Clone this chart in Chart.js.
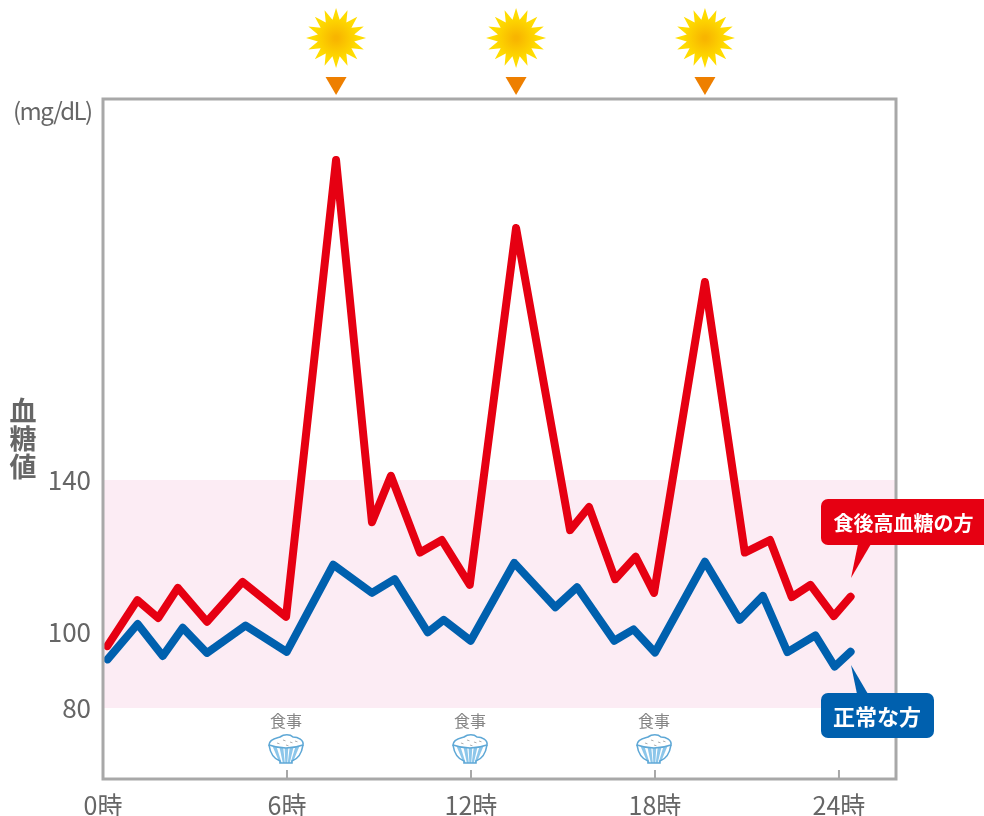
<!DOCTYPE html>
<html lang="ja">
<head>
<meta charset="utf-8">
<script src="https://cdn.jsdelivr.net/npm/chart.js@4"></script>
<style>
  html, body { margin: 0; padding: 0; background: #fff; }
  canvas { display: block; }
</style>
</head>
<body>
<canvas id="chart" width="984" height="816"></canvas>
<script>
// Values
const xTicks = [0, 6, 12, 18, 24];
const yTicks = [80, 100, 140];
const bandHours = [0, 25.86];
const bandValues = [140, 140];
const bandBottom = 80;

const redHours = [0.14, 1.12, 1.80, 2.44, 3.39, 4.55, 5.97, 7.60, 8.77, 9.39, 10.34, 11.05, 11.96,
  13.47, 15.23, 15.85, 16.70, 17.37, 17.97, 19.63, 20.93, 21.75, 22.46, 23.07, 23.83, 24.38];
const redValues = [96.3, 108.4, 103.7, 111.6, 102.7, 113.2, 104.0, 224.2, 128.9, 141.1, 120.9, 124.2, 112.4,
  206.3, 126.8, 132.9, 113.9, 119.8, 110.3, 192.1, 120.9, 124.2, 109.2, 112.4, 104.2, 109.3];

const blueHours = [0.15, 1.13, 1.95, 2.60, 3.39, 4.65, 5.99, 7.51, 8.77, 9.51, 10.59, 11.11, 11.99,
  13.41, 14.75, 15.46, 16.67, 17.30, 18.00, 19.63, 20.76, 21.52, 22.32, 23.23, 23.86, 24.38];
const blueValues = [92.8, 102.1, 93.7, 101.1, 94.5, 101.7, 94.8, 117.7, 110.3, 113.9, 99.9, 103.2, 97.7,
  118.2, 106.5, 111.8, 97.7, 100.7, 94.6, 118.5, 103.2, 109.5, 94.7, 99.1, 90.9, 94.8];

const sunHours = [7.60, 13.47, 19.63];
const mealHours = [6, 12, 18];

const toPoints = (hours, values) => hours.map((h, i) => ({ x: h, y: values[i] }));

const jpFont = '"Noto Sans CJK JP", "Noto Sans", sans-serif';
const RED = '#e60012';
const BLUE = '#0060ae';
const GREY = '#a8a8a8';
const TEXT = '#666666';

function drawSun(ctx, cx, cy) {
  const spikes = 16, outer = 30, inner = 18.5;
  const g = ctx.createRadialGradient(cx, cy, 2, cx, cy, 22);
  g.addColorStop(0, '#f8b500');
  g.addColorStop(1, '#ffdc00');
  ctx.fillStyle = g;
  ctx.beginPath();
  for (let i = 0; i < spikes * 2; i++) {
    const r = i % 2 === 0 ? outer : inner;
    const a = -Math.PI / 2 + i * Math.PI / spikes;
    ctx.lineTo(cx + r * Math.cos(a), cy + r * Math.sin(a));
  }
  ctx.closePath();
  ctx.fill();
  // orange marker under the sun
  ctx.fillStyle = '#ee7f00';
  ctx.beginPath();
  ctx.moveTo(cx - 10.5, 77);
  ctx.lineTo(cx + 10.5, 77);
  ctx.lineTo(cx, 95);
  ctx.closePath();
  ctx.fill();
}

function drawBowl(ctx, cx) {
  const rim = 745;
  // bowl body with stripes
  ctx.save();
  ctx.beginPath();
  ctx.moveTo(cx - 17, rim);
  ctx.quadraticCurveTo(cx - 15, rim + 13, cx - 6, rim + 16);
  ctx.lineTo(cx - 6, rim + 18);
  ctx.lineTo(cx + 6, rim + 18);
  ctx.lineTo(cx + 6, rim + 16);
  ctx.quadraticCurveTo(cx + 15, rim + 13, cx + 17, rim);
  ctx.closePath();
  ctx.fillStyle = '#fff';
  ctx.fill();
  ctx.clip();
  ctx.fillStyle = '#8cc6ea';
  [-14, -7, -1.5, 4, 10].forEach(dx => {
    ctx.beginPath();
    ctx.moveTo(cx + dx, rim);
    ctx.lineTo(cx + dx + 4, rim);
    ctx.lineTo(cx + dx * 0.45 + 2, rim + 18);
    ctx.lineTo(cx + dx * 0.45, rim + 18);
    ctx.closePath();
    ctx.fill();
  });
  ctx.restore();
  ctx.strokeStyle = '#5fa8d6';
  ctx.lineWidth = 1.6;
  ctx.beginPath();
  ctx.moveTo(cx - 17, rim);
  ctx.quadraticCurveTo(cx - 15, rim + 13, cx - 6, rim + 16);
  ctx.lineTo(cx - 6, rim + 18);
  ctx.lineTo(cx + 6, rim + 18);
  ctx.lineTo(cx + 6, rim + 16);
  ctx.quadraticCurveTo(cx + 15, rim + 13, cx + 17, rim);
  ctx.stroke();
  // rice
  ctx.fillStyle = '#fff';
  ctx.beginPath();
  ctx.moveTo(cx - 17, rim);
  ctx.bezierCurveTo(cx - 17, rim - 6, cx - 9, rim - 7, cx - 6, rim - 8);
  ctx.bezierCurveTo(cx - 2, rim - 11, cx + 4, rim - 11, cx + 7, rim - 8);
  ctx.bezierCurveTo(cx + 12, rim - 8, cx + 18, rim - 5, cx + 17, rim);
  ctx.quadraticCurveTo(cx, rim + 6, cx - 17, rim);
  ctx.closePath();
  ctx.fill();
  ctx.stroke();
  ctx.strokeStyle = '#9a9a9a';
  ctx.lineWidth = 0.8;
  [[-9, -2], [-3, -5], [4, -3], [9, -4], [0, 0]].forEach(([dx, dy]) => {
    ctx.beginPath();
    ctx.moveTo(cx + dx, rim + dy);
    ctx.lineTo(cx + dx + 2.5, rim + dy + 0.8);
    ctx.stroke();
  });
}

function drawCallout(ctx, box, tail, color, label, size) {
  ctx.fillStyle = color;
  ctx.beginPath();
  ctx.roundRect(box[0], box[1], box[2], box[3], 7);
  ctx.fill();
  ctx.beginPath();
  ctx.moveTo(tail[0], tail[1]);
  ctx.lineTo(tail[2], tail[3]);
  ctx.lineTo(tail[4], tail[5]);
  ctx.closePath();
  ctx.fill();
  ctx.fillStyle = '#fff';
  ctx.font = 'bold ' + size + 'px ' + jpFont;
  ctx.textAlign = 'center';
  ctx.textBaseline = 'middle';
  ctx.fillText(label, label.length > 4 ? 903.5 : 877, box[1] + box[3] / 2 + 1);
}

const decorations = {
  id: 'decorations',
  afterDatasetsDraw(chart) {
    const { ctx, chartArea: a, scales: { x } } = chart;
    ctx.save();
    // frame
    ctx.strokeStyle = GREY;
    ctx.lineWidth = 3;
    ctx.strokeRect(a.left, a.top, a.right - a.left, a.bottom - a.top);
    // inside tick marks
    ctx.lineWidth = 2;
    xTicks.slice(1).forEach(h => {
      const px = x.getPixelForValue(h);
      ctx.beginPath();
      ctx.moveTo(px, a.bottom);
      ctx.lineTo(px, a.bottom - 9);
      ctx.stroke();
    });
    sunHours.forEach(h => drawSun(ctx, x.getPixelForValue(h), 38));
    mealHours.forEach(h => {
      const px = x.getPixelForValue(h) - 1;
      ctx.fillStyle = '#858585';
      ctx.font = '16px ' + jpFont;
      ctx.textAlign = 'center';
      ctx.textBaseline = 'middle';
      ctx.fillText('食事', px, 721);
      drawBowl(ctx, px);
    });
    // axis captions
    ctx.fillStyle = TEXT;
    ctx.textBaseline = 'middle';
    ctx.textAlign = 'left';
    ctx.font = '24px ' + jpFont;
    ctx.letterSpacing = '-1.6px';
    ctx.fillText('(mg/dL)', 13, 111);
    ctx.letterSpacing = '0px';
    ctx.textAlign = 'center';
    ctx.font = 'bold 27px ' + jpFont;
    ctx.fillText('血', 23, 411);
    ctx.fillText('糖', 23, 439);
    ctx.fillText('値', 23, 467);
    // series callouts
    drawCallout(ctx, [821, 499, 170, 46], [858, 544, 871, 544, 851, 578], RED, '食後高血糖の方', 20);
    drawCallout(ctx, [821, 693, 113, 45], [857, 694, 868, 694, 851, 665], BLUE, '正常な方', 22);
    ctx.restore();
  }
};

new Chart(document.getElementById('chart'), {
  type: 'scatter',
  data: {
    datasets: [
      {
        data: toPoints(bandHours, bandValues),
        showLine: true,
        borderWidth: 0,
        pointRadius: 0,
        backgroundColor: '#fcecf4',
        fill: { value: bandBottom },
        order: 3
      },
      {
        label: '食後高血糖の方',
        data: toPoints(redHours, redValues),
        showLine: true,
        borderColor: RED,
        borderWidth: 8,
        borderCapStyle: 'round',
        borderJoinStyle: 'round',
        pointRadius: 0,
        order: 1
      },
      {
        label: '正常な方',
        data: toPoints(blueHours, blueValues),
        showLine: true,
        borderColor: BLUE,
        borderWidth: 8,
        borderCapStyle: 'round',
        borderJoinStyle: 'round',
        pointRadius: 0,
        order: 2
      }
    ]
  },
  options: {
    responsive: false,
    animation: false,
    layout: { padding: { top: 99, right: 88, left: 0, bottom: 0 } },
    plugins: { legend: { display: false }, tooltip: { enabled: false } },
    scales: {
      x: {
        type: 'linear',
        min: 0,
        max: 25.86,
        grid: { display: false },
        border: { display: false },
        afterBuildTicks: s => { s.ticks = xTicks.map(v => ({ value: v })); },
        afterFit: s => { s.height = 37; },
        ticks: {
          autoSkip: false,
          maxRotation: 0,
          padding: 3,
          color: TEXT,
          font: { family: jpFont, size: 25 },
          callback: v => v + '時'
        }
      },
      y: {
        type: 'linear',
        min: 61.32,
        max: 240.26,
        grid: { display: false },
        border: { display: false },
        afterBuildTicks: s => { s.ticks = yTicks.map(v => ({ value: v })); },
        afterFit: s => { s.width = 103; },
        ticks: {
          autoSkip: false,
          padding: 4,
          color: TEXT,
          font: { family: jpFont, size: 26 }
        }
      }
    }
  },
  plugins: [decorations]
});
</script>
</body>
</html>
